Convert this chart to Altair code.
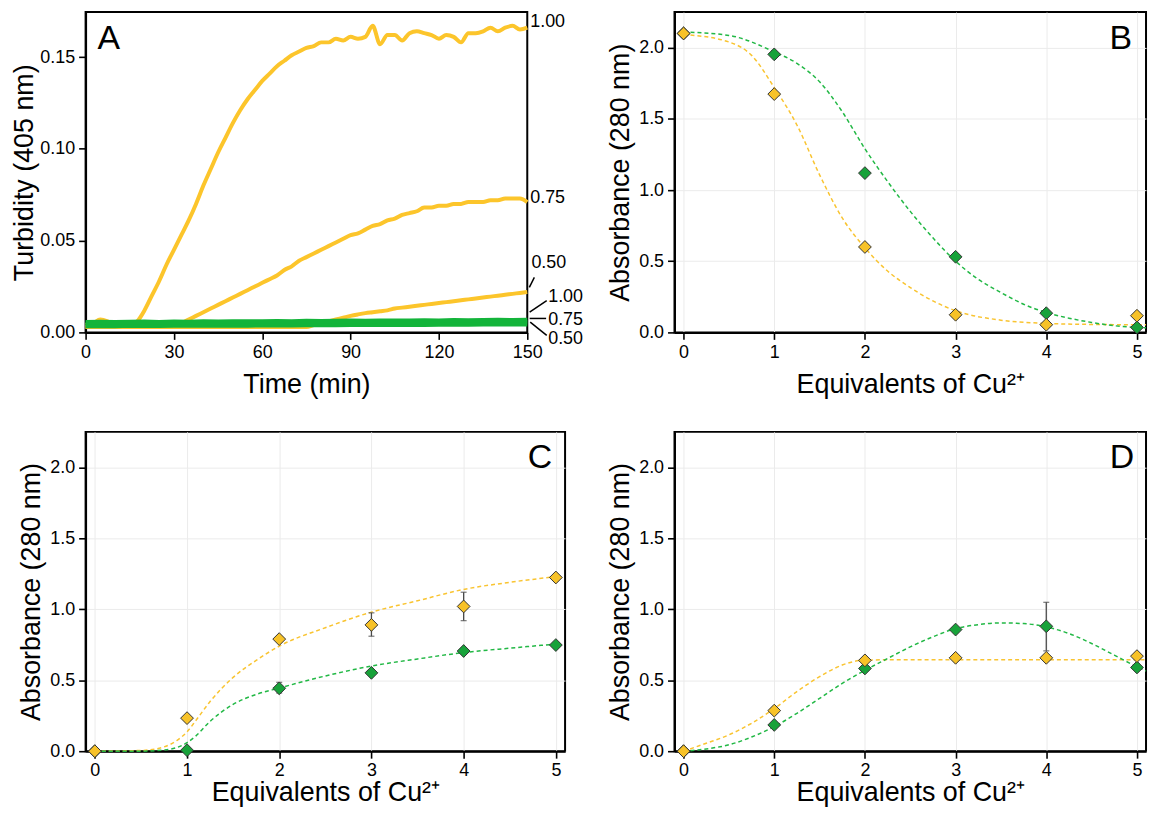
import altair as alt
import pandas as pd

FONT = "Liberation Sans"
YEL_LINE = "#FCC52B"
GRN_LINE = "#13B43A"
YEL_FIT = "#F9C431"
GRN_FIT = "#22B845"
YEL_PT = "#F7C228"
GRN_PT = "#18A23A"
PT_STROKE = "#333333"

# ---------------- Panel A : turbidity traces ----------------
time_y = [i * 2.5 for i in range(61)]
turb_100 = [0.004, 0.005, 0.007, 0.006, 0.004, 0.004, 0.004, 0.006, 0.012, 0.020,
            0.028, 0.037, 0.045, 0.053, 0.061, 0.070, 0.080, 0.089, 0.098, 0.106,
            0.114, 0.121, 0.127, 0.132, 0.137, 0.141, 0.145, 0.148, 0.151, 0.153,
            0.155, 0.156, 0.158, 0.158, 0.160, 0.159, 0.161, 0.160, 0.161, 0.167,
            0.157, 0.162, 0.162, 0.159, 0.163, 0.164, 0.163, 0.162, 0.160, 0.162,
            0.161, 0.158, 0.163, 0.163, 0.164, 0.166, 0.164, 0.166, 0.167, 0.165,
            0.166]
turb_075 = [0.003, 0.003, 0.004, 0.003, 0.003, 0.003, 0.003, 0.003, 0.003, 0.003,
            0.003, 0.003, 0.004, 0.005, 0.007, 0.009, 0.011, 0.013, 0.015, 0.017,
            0.019, 0.021, 0.023, 0.025, 0.027, 0.029, 0.031, 0.034, 0.036, 0.039,
            0.041, 0.043, 0.045, 0.047, 0.049, 0.051, 0.053, 0.054, 0.056, 0.058,
            0.059, 0.061, 0.062, 0.064, 0.065, 0.066, 0.068, 0.068, 0.069, 0.069,
            0.070, 0.070, 0.071, 0.071, 0.071, 0.072, 0.072, 0.073, 0.073, 0.073,
            0.071]
turb_050 = [0.003, 0.003, 0.003, 0.003, 0.003, 0.003, 0.003, 0.003, 0.003, 0.003,
            0.003, 0.003, 0.003, 0.003, 0.003, 0.003, 0.003, 0.003, 0.003, 0.003,
            0.003, 0.003, 0.003, 0.003, 0.003, 0.003, 0.003, 0.003, 0.003, 0.003,
            0.003, 0.004, 0.005, 0.006, 0.007, 0.008, 0.009, 0.0098, 0.0105, 0.011,
            0.0115, 0.012, 0.013, 0.0135, 0.014, 0.0145, 0.015, 0.0155, 0.016, 0.0165,
            0.017, 0.0175, 0.018, 0.0185, 0.019, 0.0195, 0.020, 0.0205, 0.021, 0.0215,
            0.022]
time_g = [i * 5 for i in range(31)]
turb_g100 = [0.0046, 0.0045, 0.0047, 0.0045, 0.0046, 0.0047, 0.0046, 0.0048, 0.0047, 0.0049,
             0.0048, 0.0049, 0.0050, 0.0049, 0.0051, 0.0050, 0.0051, 0.0052, 0.0051, 0.0052,
             0.0053, 0.0052, 0.0053, 0.0054, 0.0053, 0.0054, 0.0055, 0.0054, 0.0055, 0.0056,
             0.0055]
turb_g075 = [0.0056, 0.0057, 0.0055, 0.0057, 0.0058, 0.0056, 0.0058, 0.0057, 0.0059, 0.0058,
             0.0060, 0.0059, 0.0060, 0.0061, 0.0060, 0.0062, 0.0061, 0.0062, 0.0063, 0.0062,
             0.0064, 0.0063, 0.0064, 0.0065, 0.0064, 0.0066, 0.0065, 0.0066, 0.0067, 0.0066,
             0.0067]
turb_g050 = [0.0035, 0.0036, 0.0035, 0.0037, 0.0036, 0.0036, 0.0037, 0.0038, 0.0037, 0.0038,
             0.0039, 0.0038, 0.0039, 0.0040, 0.0039, 0.0040, 0.0041, 0.0040, 0.0041, 0.0042,
             0.0041, 0.0042, 0.0043, 0.0042, 0.0043, 0.0044, 0.0043, 0.0044, 0.0045, 0.0044,
             0.0045]

# right-hand labels of panel A (data units)
labA_text = ["1.00", "0.75", "0.50", "1.00", "0.75", "0.50"]
labA_t = [151.0, 151.0, 151.4, 157.1, 157.1, 157.1]
labA_v = [0.169, 0.0732, 0.0376, 0.0191, 0.0069, -0.0038]
conA_t1 = [152.4, 156.6, 150.8, 151.0]
conA_v1 = [0.0300, 0.0173, 0.0076, 0.0056]
conA_t2 = [150.7, 150.8, 156.4, 156.6]
conA_v2 = [0.0245, 0.0110, 0.0076, -0.0016]

# ---------------- Panels B-D : titrations ----------------
eq = [0, 1, 2, 3, 4, 5]
B_yel = [2.10, 1.674, 0.60, 0.124, 0.054, 0.117]
B_grn = [2.10, 1.953, 1.119, 0.531, 0.135, 0.035]
C_yel = [0.0, 0.233, 0.79, 0.89, 1.02, 1.224]
C_grn = [0.0, 0.007, 0.443, 0.552, 0.706, 0.748]
D_yel = [0.0, 0.286, 0.64, 0.658, 0.658, 0.67]
D_grn = [0.0, 0.185, 0.583, 0.857, 0.88, 0.59]

# fitted curves
B_fit_yx = [0, 0.5, 0.75, 1, 1.25, 1.5, 1.75, 2, 2.25, 2.5, 2.75, 3, 3.5, 4, 4.5, 5, 5.1]
B_fit_yv = [2.093, 2.04, 1.946, 1.72, 1.457, 1.107, 0.804, 0.594, 0.431, 0.315, 0.221, 0.152,
            0.086, 0.063, 0.056, 0.054, 0.054]
B_fit_gx = [0, 0.5, 1, 1.25, 1.5, 1.75, 2, 2.25, 2.5, 2.75, 3, 3.25, 3.5, 3.75, 4, 4.25, 4.5,
            4.75, 5, 5.1]
B_fit_gv = [2.11, 2.086, 1.97, 1.89, 1.76, 1.55, 1.29, 1.06, 0.85, 0.664, 0.50, 0.373, 0.28,
            0.198, 0.14, 0.10, 0.07, 0.047, 0.035, 0.033]
C_fit_yx = [0, 0.5, 0.75, 0.9, 1, 1.1, 1.25, 1.5, 1.75, 2, 2.5, 3, 3.5, 4, 4.5, 5]
C_fit_yv = [0.0, 0.005, 0.03, 0.08, 0.136, 0.22, 0.35, 0.52, 0.64, 0.74, 0.87, 0.98, 1.06,
            1.14, 1.19, 1.23]
C_fit_gx = [0, 0.5, 0.75, 1, 1.1, 1.25, 1.5, 1.75, 2, 2.5, 3, 3.5, 4, 4.5, 5]
C_fit_gv = [0.0, 0.0, 0.008, 0.06, 0.11, 0.21, 0.33, 0.40, 0.445, 0.53, 0.60, 0.65, 0.695,
            0.726, 0.755]
D_fit_yx = [0, 0.25, 0.5, 0.75, 1, 1.25, 1.5, 1.75, 2, 2.5, 3, 4, 5, 5.1]
D_fit_yv = [0.0, 0.056, 0.115, 0.197, 0.30, 0.42, 0.525, 0.607, 0.642, 0.645, 0.645, 0.645,
            0.645, 0.645]
D_fit_gx = [0, 0.25, 0.5, 0.75, 1, 1.25, 1.5, 1.75, 2, 2.25, 2.5, 2.75, 3, 3.25, 3.5, 3.75,
            4, 4.25, 4.5, 4.75, 5, 5.1]
D_fit_gv = [0.0, 0.016, 0.045, 0.10, 0.173, 0.267, 0.372, 0.478, 0.57, 0.653, 0.735, 0.806,
            0.864, 0.892, 0.904, 0.899, 0.876, 0.829, 0.759, 0.677, 0.595, 0.565]

# error bars
C_err_x = [3, 4, 2]
C_err_lo = [0.81, 0.92, 0.41]
C_err_hi = [0.975, 1.12, 0.485]
D_err_x = [4]
D_err_lo = [0.707]
D_err_hi = [1.049]

# ---------------- build panel A ----------------
rows = []
for name, vals in [("y100", turb_100), ("y075", turb_075), ("y050", turb_050)]:
    for t, v in zip(time_y, vals):
        rows.append({"t": t, "v": v, "curve": name})
dfAy = pd.DataFrame(rows)
rows = []
for name, vals in [("g050", turb_g050), ("g100", turb_g100), ("g075", turb_g075)]:
    for t, v in zip(time_g, vals):
        rows.append({"t": t, "v": v, "curve": name})
dfAg = pd.DataFrame(rows)

xA = alt.X("t:Q", scale=alt.Scale(domain=[0, 150], nice=False, zero=False),
           axis=alt.Axis(values=[0, 30, 60, 90, 120, 150], title="Time (min)", grid=False,
                         labelPadding=4, titlePadding=10))
yA = alt.Y("v:Q", scale=alt.Scale(domain=[0, 0.1745], nice=False),
           axis=alt.Axis(values=[0, 0.05, 0.10, 0.15], format=".2f",
                         title="Turbidity (405 nm)", grid=False, titlePadding=1))

a_yel = alt.Chart(dfAy).mark_line(color=YEL_LINE, strokeWidth=4, interpolate="monotone").encode(
    x=xA, y=yA, detail="curve:N")
a_grn = alt.Chart(dfAg).mark_line(color=GRN_LINE, strokeWidth=4.5).encode(
    x="t:Q", y="v:Q", detail="curve:N")
a_lab = alt.Chart(pd.DataFrame({"t": labA_t, "v": labA_v, "text": labA_text})).mark_text(
    align="left", baseline="middle", fontSize=18, font=FONT, color="black").encode(
    x="t:Q", y="v:Q", text="text:N")
a_con = alt.Chart(pd.DataFrame({"t1": conA_t1, "v1": conA_v1, "t2": conA_t2, "v2": conA_v2})).mark_rule(
    color="black", strokeWidth=1.5).encode(x="t1:Q", y="v1:Q", x2="t2:Q", y2="v2:Q")
a_letter = alt.Chart(pd.DataFrame({"label": ["A"]})).mark_text(
    align="left", baseline="alphabetic", fontSize=34, font=FONT, color="black").encode(
    x=alt.value(12), y=alt.value(37), text="label:N")

panelA = alt.layer(a_yel, a_grn, a_con, a_lab, a_letter).properties(width=444, height=322)


# ---------------- builder for B-D ----------------
def titration(yel, grn, fyx, fyv, fgx, fgv, ex, elo, ehi, letter, width, height, lx, ly,
              xlp, xtp):
    xs = alt.X("x:Q", scale=alt.Scale(domain=[-0.1, 5.1], nice=False, zero=False),
               axis=alt.Axis(values=[0, 1, 2, 3, 4, 5], format="d",
                             title="Equivalents of Cu²⁺", grid=True,
                             labelPadding=xlp, titlePadding=xtp))
    ys = alt.Y("y:Q", scale=alt.Scale(domain=[0, 2.25], nice=False),
               axis=alt.Axis(values=[0, 0.5, 1.0, 1.5, 2.0], format=".1f",
                             title="Absorbance (280 nm)", grid=True, titlePadding=4))
    fit_y = alt.Chart(pd.DataFrame({"x": fyx, "y": fyv})).mark_line(
        color=YEL_FIT, strokeDash=[4, 3], strokeWidth=1.5, interpolate="monotone").encode(x=xs, y=ys)
    fit_g = alt.Chart(pd.DataFrame({"x": fgx, "y": fgv})).mark_line(
        color=GRN_FIT, strokeDash=[4, 3], strokeWidth=1.5, interpolate="monotone").encode(x="x:Q", y="y:Q")
    layers = [fit_y, fit_g]
    if ex:
        edf = pd.DataFrame({"x": ex, "lo": elo, "hi": ehi})
        layers.append(alt.Chart(edf).mark_rule(color="#4a4a4a", strokeWidth=1.3).encode(
            x="x:Q", y="lo:Q", y2="hi:Q"))
        layers.append(alt.Chart(edf).mark_tick(color="#4a4a4a", orient="horizontal", size=6,
                                               thickness=1.3).encode(x="x:Q", y="lo:Q"))
        layers.append(alt.Chart(edf).mark_tick(color="#4a4a4a", orient="horizontal", size=6,
                                               thickness=1.3).encode(x="x:Q", y="hi:Q"))
    pg = alt.Chart(pd.DataFrame({"x": eq, "y": grn})).mark_point(
        shape="diamond", filled=True, fill=GRN_PT, stroke=PT_STROKE, strokeWidth=1,
        size=165, opacity=1).encode(x="x:Q", y="y:Q")
    py = alt.Chart(pd.DataFrame({"x": eq, "y": yel})).mark_point(
        shape="diamond", filled=True, fill=YEL_PT, stroke=PT_STROKE, strokeWidth=1,
        size=165, opacity=1).encode(x="x:Q", y="y:Q")
    lt = alt.Chart(pd.DataFrame({"label": [letter]})).mark_text(
        align="right", baseline="alphabetic", fontSize=34, font=FONT, color="black").encode(
        x=alt.value(lx), y=alt.value(ly), text="label:N")
    layers += [pg, py, lt]
    return alt.layer(*layers).properties(width=width, height=height)


panelB = titration(B_yel, B_grn, B_fit_yx, B_fit_yv, B_fit_gx, B_fit_gv, [], [], [], "B",
                   474, 322, 460, 37, 4, 10)
panelC = titration(C_yel, C_grn, C_fit_yx, C_fit_yv, C_fit_gx, C_fit_gv,
                   C_err_x, C_err_lo, C_err_hi, "C", 482, 321, 469, 36, 3, 1)
panelD = titration(D_yel, D_grn, D_fit_yx, D_fit_yv, D_fit_gx, D_fit_gv,
                   D_err_x, D_err_lo, D_err_hi, "D", 474, 321, 462, 36, 3, 1)

chart = alt.concat(panelA, panelB, panelC, panelD, columns=2,
                   spacing={"row": 100, "column": 110}, bounds="flush").properties(
    padding={"left": 1, "top": 1, "right": 0, "bottom": 0},
    background="white",
).configure_axis(
    labelFont=FONT, titleFont=FONT, labelFontSize=18, titleFontSize=27,
    titleFontWeight="normal", labelColor="black", titleColor="black",
    domainColor="black", domainWidth=2, tickColor="black", tickWidth=1.6, tickSize=7,
    gridColor="#EBEBEB", gridWidth=1, labelFlush=False,
).configure_axisY(labelPadding=4).configure_view(
    stroke="black", strokeWidth=2)

chart.save("out.html", embed_options={"renderer": "svg", "actions": False})
